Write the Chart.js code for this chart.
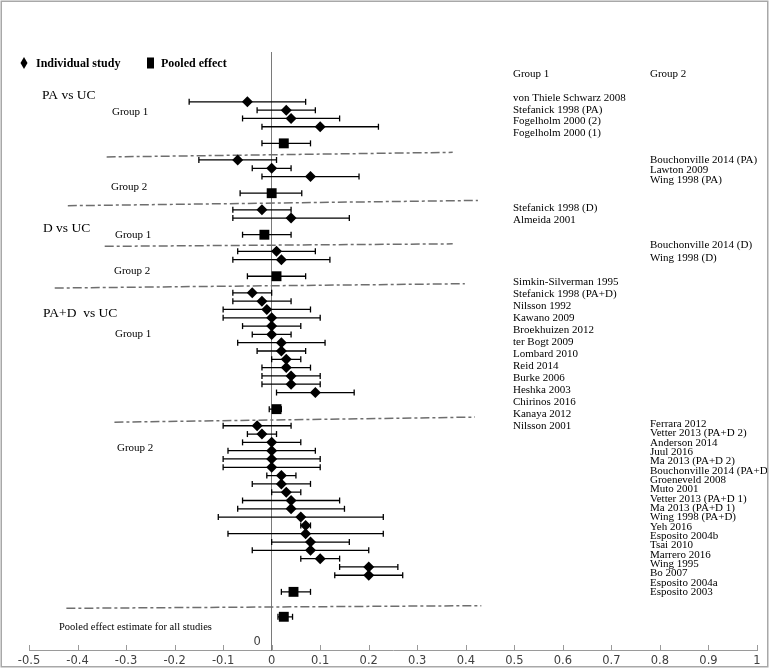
<!DOCTYPE html>
<html><head><meta charset="utf-8">
<script src="https://cdn.jsdelivr.net/npm/chart.js@4/dist/chart.umd.min.js"></script>
<style>html,body{margin:0;padding:0;background:#fff}#wrap{width:771px;height:670px;position:relative}canvas{display:block}</style>
</head><body><div id="wrap"><canvas id="c" width="771" height="670"></canvas></div>
<script>
// ---------- data ----------
const xTickValues = [-0.5,-0.4,-0.3,-0.2,-0.1,0,0.1,0.2,0.3,0.4,0.5,0.6,0.7,0.8,0.9,1];

const studyNames = [
  'von Thiele Schwarz 2008','Stefanick 1998 (PA)','Fogelholm 2000 (2)','Fogelholm 2000 (1)',
  'Bouchonville 2014 (PA)','Lawton 2009','Wing 1998 (PA)',
  'Stefanick 1998 (D)','Almeida 2001',
  'Bouchonville 2014 (D)','Wing 1998 (D)',
  'Simkin-Silverman 1995','Stefanick 1998 (PA+D)','Nilsson 1992','Kawano 2009','Broekhuizen 2012','ter Bogt 2009',
  'Lombard 2010','Reid 2014','Burke 2006','Heshka 2003','Chirinos 2016','Kanaya 2012','Nilsson 2001',
  'Ferrara 2012','Vetter 2013 (PA+D 2)','Anderson 2014','Juul 2016','Ma 2013 (PA+D 2)','Bouchonville 2014 (PA+D)',
  'Groeneveld 2008','Muto 2001','Vetter 2013 (PA+D 1)','Ma 2013 (PA+D 1)','Wing 1998 (PA+D)','Yeh 2016',
  'Esposito 2004b','Tsai 2010','Marrero 2016','Wing 1995','Bo 2007','Esposito 2004a','Esposito 2003'
];
const studyRows = [65,64,63,62, 58,57,56, 52,51, 47,46,
  42,41,40,39,38,37,36,35,34,33,32,31,30,
  26,25,24,23,22,21,20,19,18,17,16,15,14,13,12,11,10,9,8];
const studyEffects = [-0.05,0.03,0.04,0.10, -0.07,0.00,0.08, -0.02,0.04, 0.01,0.02,
  -0.04,-0.02,-0.01,0.00,0.00,0.00,0.02,0.02,0.03,0.03,0.04,0.04,0.09,
  -0.03,-0.02,0.00,0.00,0.00,0.00,0.02,0.02,0.03,0.04,0.04,0.06,0.07,0.07,0.08,0.08,0.10,0.20,0.20];
const studyLower = [-0.17,-0.03,-0.06,-0.02, -0.15,-0.04,-0.02, -0.08,-0.08, -0.07,-0.08,
  -0.08,-0.08,-0.10,-0.10,-0.06,-0.04,-0.07,-0.03,0.00,-0.02,-0.02,-0.02,0.01,
  -0.10,-0.05,-0.06,-0.09,-0.10,-0.10,-0.01,-0.04,0.00,-0.06,-0.07,-0.11,0.06,-0.09,0.00,-0.04,0.06,0.14,0.13];
const studyUpper = [0.07,0.09,0.14,0.22, 0.01,0.04,0.18, 0.04,0.16, 0.09,0.12,
  0.00,0.04,0.08,0.10,0.06,0.04,0.11,0.07,0.06,0.08,0.10,0.10,0.17,
  0.04,0.01,0.06,0.09,0.10,0.10,0.05,0.08,0.06,0.14,0.15,0.23,0.08,0.23,0.16,0.20,0.14,0.26,0.27];

const pooledRows = [60,54,49,44,28,6,3];
const pooledEffects = [0.025,0.00,-0.015,0.01,0.01,0.045,0.025];
const pooledLower = [-0.02,-0.065,-0.06,-0.05,-0.005,0.02,0.013];
const pooledUpper = [0.08,0.062,0.04,0.07,0.02,0.08,0.043];

// group separator lines (start and end points, in axis units)
const sepStartX = [-0.34,-0.42,-0.344,-0.447,-0.324,-0.423];
const sepStartY = [58.36,52.49,47.6,42.58,26.43,4.02];
const sepEndX   = [0.373,0.425,0.373,0.398,0.419,0.432];
const sepEndY   = [58.92,53.13,47.9,43.1,27.04,4.34];

const legendLabels = ['Individual study','Pooled effect'];
const columnHeaders = ['Group 1','Group 2'];
const sectionTitles = ['PA vs UC','D vs UC','PA+D  vs UC'];
const groupLabels = ['Group 1','Group 2','Group 1','Group 2','Group 1','Group 2'];
const overallLabel = 'Pooled effect estimate for all studies';
const blockSizes = [4,3,2,2,13,19];

// ---------- layout (pixels) ----------
const SERIF = '"Liberation Serif", "Times New Roman", serif';
const SANS = '"DejaVu Sans", Verdana, sans-serif';
const blockColumn = [0,1,0,1,0,1];
const columnX = [513,650];
const blockTop = [98,160,208.5,245.5,282,424];
const blockStep = [11.8,10,11.8,12.5,12.05,9.33];
const sectionPos = [[42,95],[43,228],[43,313]];
const groupPos = [[112,112],[111,187],[115,235],[114,271],[115,334],[117,448]];

// ---------- datasets ----------
const studyPoints = studyEffects.map((v,i)=>({x:v,y:studyRows[i]}));
const pooledPoints = pooledEffects.map((v,i)=>({x:v,y:pooledRows[i]}));
const barPoints = [];
studyRows.forEach((r,i)=>{barPoints.push({x:studyLower[i],y:r},{x:studyUpper[i],y:r},{x:null,y:null});});
pooledRows.forEach((r,i)=>{barPoints.push({x:pooledLower[i],y:r},{x:pooledUpper[i],y:r},{x:null,y:null});});
const sepPoints = [];
sepStartX.forEach((x,i)=>{sepPoints.push({x:x,y:sepStartY[i]},{x:sepEndX[i],y:sepEndY[i]},{x:null,y:null});});

const decor = {
  id:'decor',
  beforeDraw(chart){
    const c=chart.ctx; c.save(); c.fillStyle='#fff'; c.fillRect(0,0,chart.width,chart.height); c.restore();
  },
  afterDraw(chart){
    const c=chart.ctx, xs=chart.scales.x, area=chart.chartArea;
    c.save();
    // x tick marks (inside)
    c.strokeStyle='#9a9a9a'; c.lineWidth=1;
    xTickValues.forEach(v=>{const px=Math.round(xs.getPixelForValue(v))+0.5; c.beginPath(); c.moveTo(px,area.bottom); c.lineTo(px,area.bottom-5); c.stroke();});
    // legend
    c.fillStyle='#000';
    c.beginPath(); c.moveTo(24,57); c.lineTo(27.5,63); c.lineTo(24,69); c.lineTo(20.5,63); c.closePath(); c.fill();
    c.fillRect(147,57.5,7,11);
    c.font='bold 12px '+SERIF; c.textBaseline='middle'; c.textAlign='left';
    c.fillText(legendLabels[0],36,63.5); c.fillText(legendLabels[1],161,63.5);
    // section titles
    c.font='13.5px '+SERIF;
    sectionTitles.forEach((t,i)=>c.fillText(t,sectionPos[i][0],sectionPos[i][1]));
    c.font='11px '+SERIF;
    groupLabels.forEach((t,i)=>c.fillText(t,groupPos[i][0],groupPos[i][1]));
    c.font='10.5px '+SERIF;
    c.fillText(overallLabel,59,627);
    // right-hand study labels
    c.font='11px '+SERIF;
    columnHeaders.forEach((t,i)=>c.fillText(t,columnX[i],74));
    let k=0;
    blockSizes.forEach((n,b)=>{
      for(let j=0;j<n;j++){ c.fillText(studyNames[k],columnX[blockColumn[b]],blockTop[b]+j*blockStep[b]); k++; }
    });
    // outer frame (drawn last so it clips overflowing text like the original)
    c.fillStyle='#fff'; c.fillRect(767,0,4,670);
    c.strokeStyle='#a8a8a8'; c.lineWidth=1.5; c.strokeRect(1.25,1.25,766.5,665.5);
    c.restore();
  }
};

new Chart(document.getElementById('c'),{
  type:'scatter',
  data:{datasets:[
    {label:legendLabels[0],data:studyPoints,pointStyle:'rectRot',pointRadius:5.5,backgroundColor:'#000',borderColor:'#000',borderWidth:0,order:0},
    {label:legendLabels[1],data:pooledPoints,pointStyle:'rect',pointRadius:7,backgroundColor:'#000',borderColor:'#000',borderWidth:0,order:0},
    {label:'ci',data:barPoints,showLine:true,spanGaps:false,pointStyle:'line',rotation:90,pointRadius:3,borderColor:'#000',backgroundColor:'#000',borderWidth:1.3,pointBorderWidth:1.3,order:1},
    {label:'sep',data:sepPoints,showLine:true,spanGaps:false,pointRadius:0,borderColor:'#6e6e6e',borderWidth:1.5,borderDash:[9,3,3,3],order:2}
  ]},
  options:{
    responsive:false,animation:false,devicePixelRatio:1,
    layout:{padding:{left:29,right:14,top:52,bottom:0}},
    plugins:{legend:{display:false},tooltip:{enabled:false}},
    scales:{
      x:{type:'linear',min:-0.5,max:1,
        afterBuildTicks:s=>{s.ticks=xTickValues.map(v=>({value:v}));},
        afterFit:s=>{s.height=20;},
        ticks:{callback:v=>String(Math.round(v*10)/10),font:{family:SANS,size:11.5},color:'#404040',padding:4,maxRotation:0,autoSkip:false},
        grid:{display:false,drawTicks:false},
        border:{display:true,color:'#9a9a9a',width:1}},
      y:{type:'linear',min:-1,max:71,position:{x:0},
        afterBuildTicks:s=>{s.ticks=[{value:0}];},
        ticks:{callback:v=>v===0?'0   ':'',font:{family:SANS,size:11.5},color:'#404040',padding:12},
        grid:{display:false,drawTicks:false},
        border:{display:true,color:'#7a7a7a',width:1}}
    }
  },
  plugins:[decor]
});
</script></body></html>
